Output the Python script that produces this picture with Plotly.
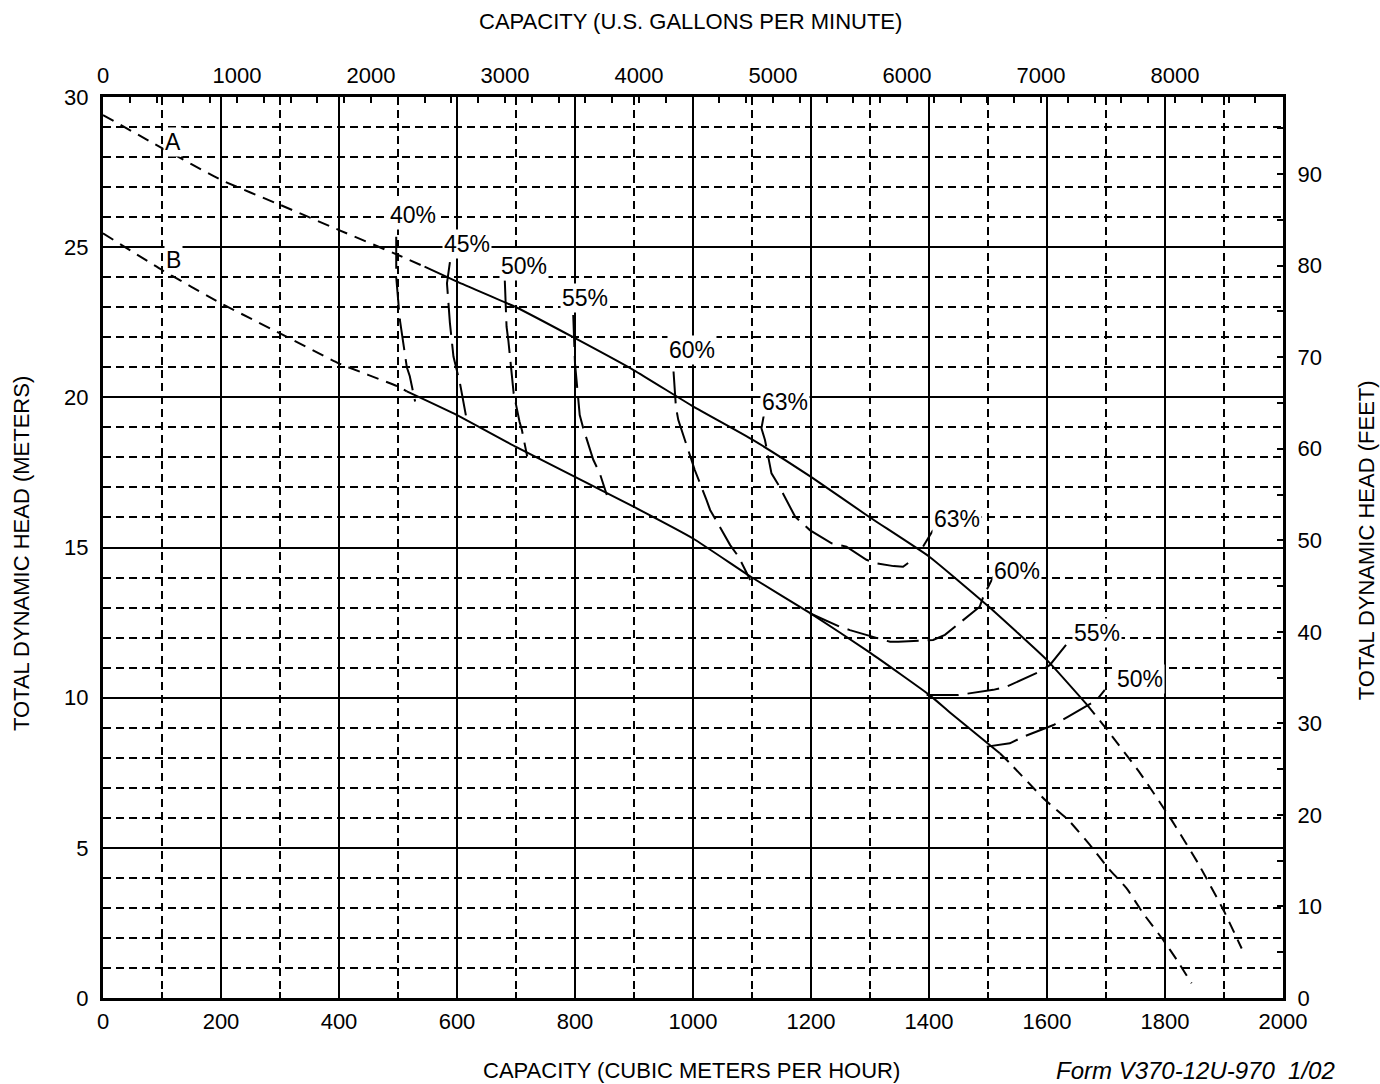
import plotly.graph_objects as go

# ---------------- data ----------------
GPM_PER_M3H = 4.402868
FT_PER_M = 3.28084
Q_MAX = 2000
H_MAX = 30

# Head curve A (impeller A): capacity m3/h, head m
A_q = [0, 100, 200, 300, 400, 500, 545, 600, 700, 800, 900, 1000, 1100, 1200,
       1300, 1400, 1500, 1600, 1668, 1698, 1758, 1811, 1856, 1899, 1930]
A_h = [29.4, 28.3, 27.24, 26.41, 25.57, 24.74, 24.35, 23.85, 23.0, 21.97, 20.9,
       19.7, 18.6, 17.35, 16.0, 14.7, 13.05, 11.25, 9.76, 9.03, 7.48, 5.93,
       4.49, 2.93, 1.65]
A_solid = (545, 1668)

# Head curve B
B_q = [0, 100, 200, 300, 400, 500, 515, 600, 700, 800, 900, 1000, 1100, 1200,
       1300, 1400, 1436, 1520, 1537, 1597, 1636, 1673, 1704, 1735, 1763, 1797,
       1820, 1845]
B_h = [25.46, 24.24, 23.13, 22.13, 21.13, 20.36, 20.2, 19.41, 18.35, 17.35,
       16.35, 15.3, 14.0, 12.8, 11.5, 10.1, 9.5, 8.15, 7.82, 6.59, 5.93, 5.09,
       4.32, 3.65, 2.82, 1.93, 1.27, 0.49]
B_solid = (515, 1520)

# Efficiency contours
eff_40_q = [497, 497, 503, 506, 515, 520, 529]
eff_40_h = [25.35, 24.0, 22.6, 22.2, 21.0, 20.7, 19.86]
eff_45_q = [588, 583, 588, 594, 605, 616]
eff_45_h = [24.5, 23.8, 22.47, 21.36, 20.47, 19.3]
eff_50_q = [681, 684, 687, 693, 696, 706, 710, 719]
eff_50_h = [23.9, 22.35, 21.9, 20.86, 20.14, 19.19, 18.91, 18.03]
eff_55_q = [797, 800, 808, 814, 831, 842, 854]
eff_55_h = [22.74, 21.13, 19.41, 18.97, 17.92, 17.47, 16.75]
eff_60_q = [967, 971, 975, 995, 1003, 1023, 1029, 1063, 1077, 1097]
eff_60_h = [20.86, 19.69, 19.25, 18.03, 17.58, 16.58, 16.25, 15.08, 14.7, 13.92]
eff_63_q = [1120, 1116, 1122, 1133, 1145, 1173, 1198, 1235, 1260, 1294, 1311,
            1340, 1356, 1368]
eff_63_h = [19.4, 18.97, 18.58, 17.47, 17.08, 16.03, 15.58, 15.14, 15.03, 14.59,
            14.47, 14.38, 14.36, 14.53]
eff_63r_q = [1390, 1407]
eff_63r_h = [15.03, 15.58]
eff_60r_q = [1198, 1249, 1266, 1334, 1348, 1407, 1427, 1486, 1492, 1509]
eff_60r_h = [12.81, 12.36, 12.25, 11.86, 11.86, 11.92, 12.09, 13.03, 13.36, 14.03]
eff_55r_q = [1396, 1450, 1509, 1532, 1588, 1605, 1639]
eff_55r_h = [10.09, 10.09, 10.26, 10.37, 10.87, 11.09, 11.92]
eff_50r_q = [1498, 1537, 1560, 1611, 1636, 1684, 1698]
eff_50r_h = [8.37, 8.48, 8.7, 9.09, 9.37, 9.92, 10.26]

# Labels
label_text = ["40%", "45%", "50%", "55%", "60%", "63%", "63%", "60%", "55%", "50%", "A", "B"]
label_q = [525, 617, 714, 817, 998, 1156, 1447, 1549, 1685, 1758, 119, 119]
label_h = [26.07, 25.1, 24.37, 23.31, 21.58, 19.85, 15.95, 14.22, 12.15, 10.62, 28.5, 24.58]

FONT = "Liberation Sans, Arial, sans-serif"

fig = go.Figure()


def split(q, h, lo, hi):
    left = [(a, b) for a, b in zip(q, h) if a <= lo]
    mid = [(a, b) for a, b in zip(q, h) if lo <= a <= hi]
    right = [(a, b) for a, b in zip(q, h) if a >= hi]
    return left, mid, right


for q, h, rng in [(A_q, A_h, A_solid), (B_q, B_h, B_solid)]:
    left, mid, right = split(q, h, *rng)
    for seg, dash in [(left, "12px,8px"), (mid, "solid"), (right, "12px,8px")]:
        fig.add_trace(go.Scatter(
            x=[p[0] for p in seg], y=[p[1] for p in seg], mode="lines",
            line=dict(color="black", width=2, dash=dash, shape="spline", smoothing=0.4),
            hoverinfo="skip", showlegend=False))

for q, h in [(eff_40_q, eff_40_h), (eff_45_q, eff_45_h), (eff_50_q, eff_50_h),
             (eff_55_q, eff_55_h), (eff_60_q, eff_60_h), (eff_63_q, eff_63_h),
             (eff_63r_q, eff_63r_h), (eff_60r_q, eff_60r_h), (eff_55r_q, eff_55r_h),
             (eff_50r_q, eff_50r_h)]:
    fig.add_trace(go.Scatter(
        x=q, y=h, mode="lines",
        line=dict(color="black", width=2, dash="32px,9px"),
        hoverinfo="skip", showlegend=False))

# invisible trace to carry the secondary (gpm / feet) axes
fig.add_trace(go.Scatter(x=[0, Q_MAX * GPM_PER_M3H], y=[0, H_MAX * FT_PER_M],
                         xaxis="x2", yaxis="y2", mode="markers",
                         marker=dict(opacity=0), hoverinfo="skip", showlegend=False))

for t, q, h in zip(label_text, label_q, label_h):
    fig.add_annotation(x=q, y=h, text=t, showarrow=False, xref="x", yref="y",
                       xanchor="center", yanchor="middle",
                       bgcolor="white", borderpad=1,
                       font=dict(family=FONT, size=23, color="black"))

tickfont = dict(family=FONT, size=22, color="black")
titlefont = dict(family=FONT, size=22, color="black")

fig.update_layout(
    width=1380, height=1084,
    margin=dict(l=103, r=97, t=97, b=86),
    paper_bgcolor="white", plot_bgcolor="white",
    xaxis=dict(range=[0, Q_MAX], dtick=200, tick0=0, showgrid=True,
               gridcolor="black", gridwidth=2,
               minor=dict(dtick=100, showgrid=True, gridcolor="black", gridwidth=2,
                          griddash="8px,5px", ticks="inside", ticklen=6, tickcolor="black"),
               ticks="inside", ticklen=6, tickcolor="black", tickwidth=2,
               showline=True, linecolor="black", linewidth=3, zeroline=False,
               tickfont=tickfont, ticklabelstandoff=2, fixedrange=True),
    yaxis=dict(range=[0, H_MAX], dtick=5, tick0=0, showgrid=True,
               gridcolor="black", gridwidth=2,
               minor=dict(dtick=1, showgrid=True, gridcolor="black", gridwidth=2,
                          griddash="8px,5px", ticks="inside", ticklen=6, tickcolor="black"),
               ticks="inside", ticklen=6, tickcolor="black", tickwidth=2,
               showline=True, linecolor="black", linewidth=3, zeroline=False,
               tickfont=tickfont, ticklabelstandoff=7, fixedrange=True),
    xaxis2=dict(range=[0, Q_MAX * GPM_PER_M3H], overlaying="x", side="top", anchor="y",
                dtick=1000, tick0=0, showgrid=False, zeroline=False,
                minor=dict(dtick=200, ticks="inside", ticklen=6, tickcolor="black", showgrid=False),
                ticks="inside", ticklen=6, tickcolor="black", tickwidth=2,
                showline=True, linecolor="black", linewidth=3,
                tickfont=tickfont, ticklabelstandoff=2, fixedrange=True),
    yaxis2=dict(range=[0, H_MAX * FT_PER_M], overlaying="y", side="right", anchor="x",
                dtick=10, tick0=0, showgrid=False, zeroline=False,
                minor=dict(dtick=5, ticks="inside", ticklen=6, tickcolor="black", showgrid=False),
                ticks="inside", ticklen=6, tickcolor="black", tickwidth=2,
                showline=True, linecolor="black", linewidth=3,
                tickfont=tickfont, ticklabelstandoff=7, fixedrange=True),
)

common = dict(xref="paper", yref="paper", showarrow=False, font=titlefont,
              xanchor="center", yanchor="middle")
fig.add_annotation(text="CAPACITY (U.S. GALLONS PER MINUTE)", x=0.4975, y=1.0833, **common)
fig.add_annotation(text="CAPACITY (CUBIC METERS PER HOUR)", x=0.499, y=-0.081, **common)
fig.add_annotation(text="<i>Form V370-12U-970  1/02</i>", x=0.926, y=-0.081,
                   xref="paper", yref="paper", showarrow=False,
                   xanchor="center", yanchor="middle",
                   font=dict(family=FONT, size=24, color="black"))
fig.add_annotation(text="TOTAL DYNAMIC HEAD (METERS)", x=-0.0686, y=0.4928, textangle=-90, **common)
fig.add_annotation(text="TOTAL DYNAMIC HEAD (FEET)", x=1.0703, y=0.508, textangle=-90, **common)

fig.write_html("out.html",
               config={"displayModeBar": False, "staticPlot": True},
               post_script="document.body.style.margin='0';"
                           "document.body.style.overflow='hidden';")
